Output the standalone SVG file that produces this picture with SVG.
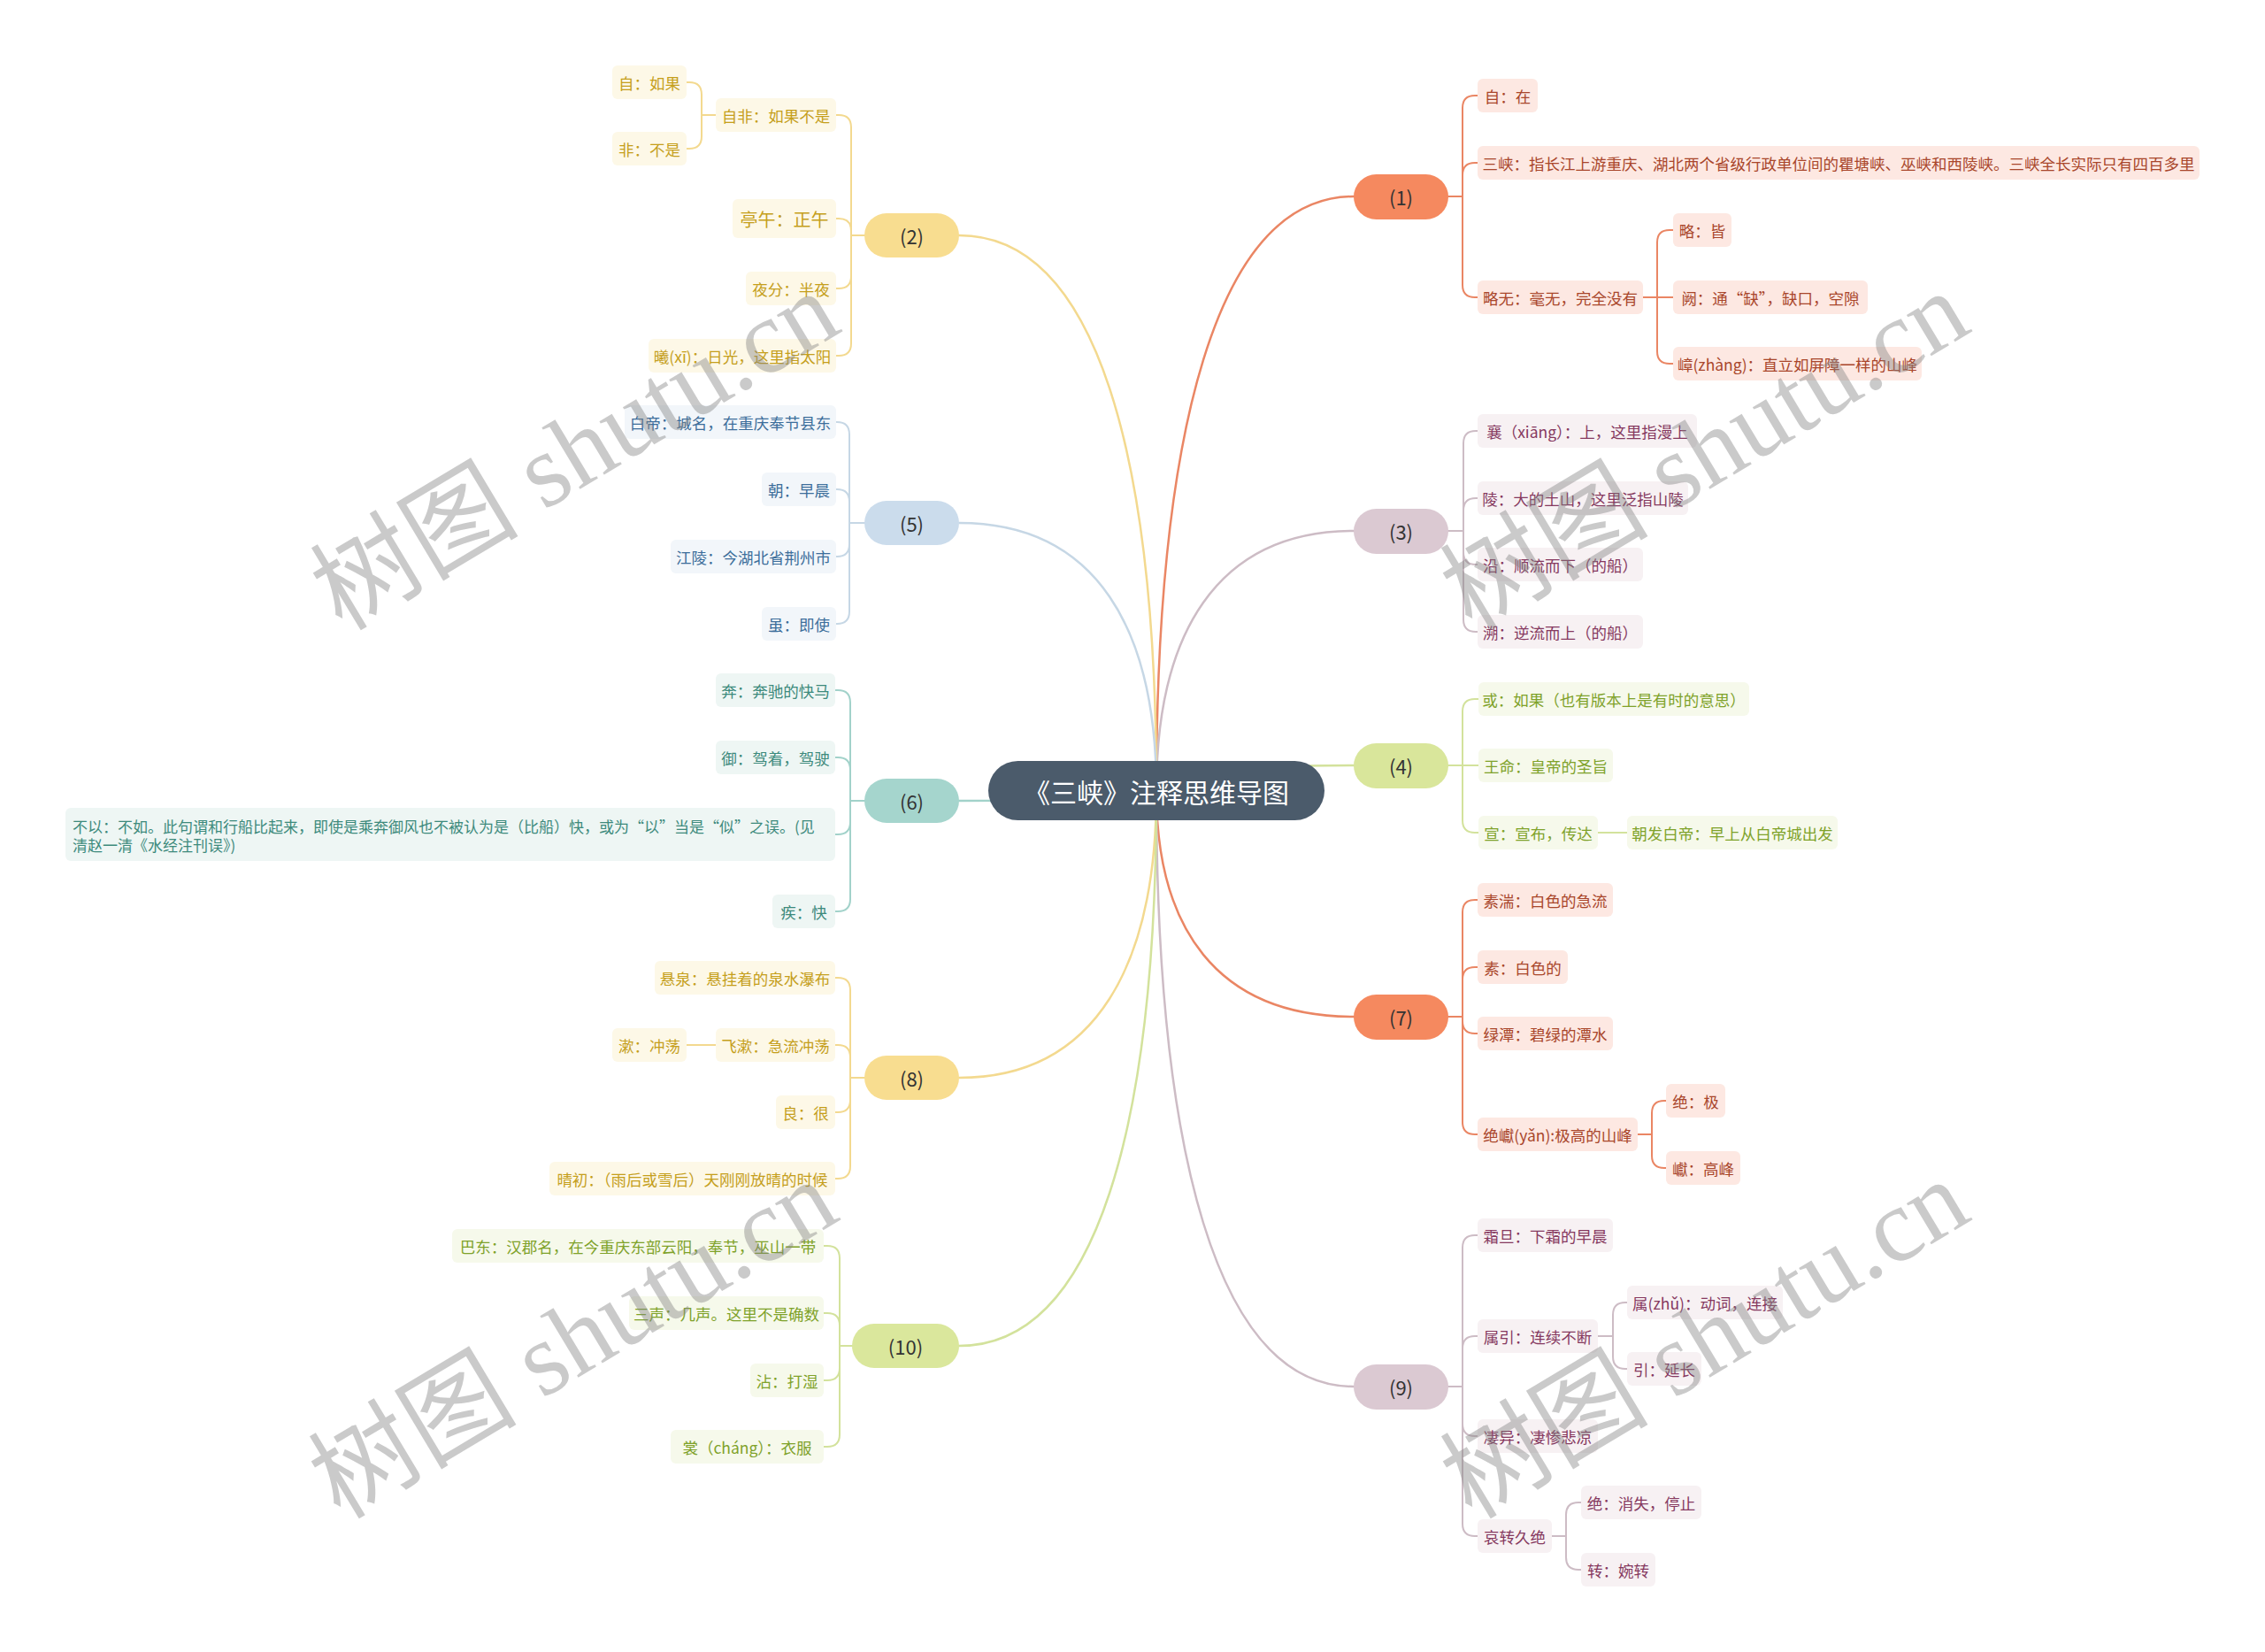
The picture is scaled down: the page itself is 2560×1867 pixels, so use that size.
<svg xmlns="http://www.w3.org/2000/svg" width="2560" height="1867" viewBox="0 0 2560 1867">
<style>
text{font-family:"Noto Sans CJK SC","Liberation Sans",sans-serif;dominant-baseline:central;text-anchor:middle}
.n text{font-size:17.5px}
.l1 text{font-size:22px;fill:#333}
.red rect{fill:#fde8e2}.red text{fill:#a9462b}
.yel rect{fill:#fdf8e7}.yel text{fill:#c59f1c}
.mau rect{fill:#f7f1f3}.mau text{fill:#86395f}
.grn rect{fill:#f6f9eb}.grn text{fill:#7fa22a}
.blu rect{fill:#f2f6fa}.blu text{fill:#3d6e9b}
.tea rect{fill:#eef6f4}.tea text{fill:#3d8a7c}
.conn path{fill:none;stroke-width:2;stroke-linecap:round}
.main path{stroke-width:2.5}
.sr{stroke:#ea8664}.sy{stroke:#f3d98f}.sm{stroke:#cdbcc5}.sg{stroke:#d3e29c}.sb{stroke:#c6d7e5}.st{stroke:#a2d2ca}
.wm{font-family:"Liberation Serif","Noto Sans CJK SC",serif;font-size:118px;fill:#808080;fill-opacity:0.42}
</style>
<rect width="2560" height="1867" fill="#fff"/>
<g id="connectors" class="conn">
<g class="main">
<path class="sr" d="M1307 894 C1307 491 1374 222 1530 222"/>
<path class="sm" d="M1307 894 C1307 718 1374 600 1530 600"/>
<path class="sg" d="M1307 894 C1307 877 1374 865 1530 865"/>
<path class="sr" d="M1307 894 C1307 1047 1374 1149 1530 1149"/>
<path class="sm" d="M1307 894 C1307 1298 1374 1567 1530 1567"/>
<path class="sy" d="M1307 894 C1307 517 1240 266 1084 266"/>
<path class="sb" d="M1307 894 C1307 712 1240 591 1084 591"/>
<path class="st" d="M1307 894 C1307 901 1240 905 1084 905"/>
<path class="sy" d="M1307 894 C1307 1088 1240 1218 1084 1218"/>
<path class="sg" d="M1307 894 C1307 1270 1240 1521 1084 1521"/>
</g>
<path class="sr" d="M1637 222 H1653 V122 Q1653 108 1667 108 H1670"/>
<path class="sr" d="M1637 222 H1653 V198 Q1653 184 1667 184 H1670"/>
<path class="sr" d="M1637 222 H1653 V322 Q1653 336 1667 336 H1670"/>
<path class="sr" d="M1857 336 H1873 V274 Q1873 260 1887 260 H1891"/>
<path class="sr" d="M1857 336 H1891"/>
<path class="sr" d="M1857 336 H1873 V397 Q1873 411 1887 411 H1891"/>
<path class="sm" d="M1637 600 H1654 V501 Q1654 487 1668 487 H1670"/>
<path class="sm" d="M1637 600 H1654 V577 Q1654 563 1668 563 H1670"/>
<path class="sm" d="M1637 600 H1654 V624 Q1654 638 1668 638 H1670"/>
<path class="sm" d="M1637 600 H1654 V700 Q1654 714 1668 714 H1670"/>
<path class="sg" d="M1637 865 H1653 V804 Q1653 790 1667 790 H1671"/>
<path class="sg" d="M1637 865 H1671"/>
<path class="sg" d="M1637 865 H1653 V927 Q1653 941 1667 941 H1671"/>
<path class="sg" d="M1806 941 H1839"/>
<path class="sr" d="M1637 1149 H1653 V1031 Q1653 1017 1667 1017 H1670"/>
<path class="sr" d="M1637 1149 H1653 V1107 Q1653 1093 1667 1093 H1670"/>
<path class="sr" d="M1637 1149 H1653 V1154 Q1653 1168 1667 1168 H1670"/>
<path class="sr" d="M1637 1149 H1653 V1268 Q1653 1282 1667 1282 H1670"/>
<path class="sr" d="M1851 1282 H1867 V1258 Q1867 1244 1881 1244 H1883"/>
<path class="sr" d="M1851 1282 H1867 V1306 Q1867 1320 1881 1320 H1883"/>
<path class="sm" d="M1637 1567 H1653 V1410 Q1653 1396 1667 1396 H1670"/>
<path class="sm" d="M1637 1567 H1653 V1524 Q1653 1510 1667 1510 H1670"/>
<path class="sm" d="M1637 1567 H1653 V1609 Q1653 1623 1667 1623 H1670"/>
<path class="sm" d="M1637 1567 H1653 V1722 Q1653 1736 1667 1736 H1670"/>
<path class="sm" d="M1806 1510 H1823 V1486 Q1823 1472 1837 1472 H1839"/>
<path class="sm" d="M1806 1510 H1823 V1533 Q1823 1547 1837 1547 H1839"/>
<path class="sm" d="M1754 1736 H1770 V1712 Q1770 1698 1784 1698 H1787"/>
<path class="sm" d="M1754 1736 H1770 V1760 Q1770 1774 1784 1774 H1787"/>
<path class="sy" d="M978 266 H962 V144 Q962 130 948 130 H945"/>
<path class="sy" d="M978 266 H962 V261 Q962 247 948 247 H945"/>
<path class="sy" d="M978 266 H962 V312 Q962 326 948 326 H945"/>
<path class="sy" d="M978 266 H962 V388 Q962 402 948 402 H945"/>
<path class="sy" d="M809 130 H793 V107 Q793 93 779 93 H776"/>
<path class="sy" d="M809 130 H793 V154 Q793 168 779 168 H776"/>
<path class="sb" d="M978 591 H960 V491 Q960 477 946 477 H945"/>
<path class="sb" d="M978 591 H960 V567 Q960 553 946 553 H945"/>
<path class="sb" d="M978 591 H960 V615 Q960 629 946 629 H945"/>
<path class="sb" d="M978 591 H960 V691 Q960 705 946 705 H945"/>
<path class="st" d="M977 905 H961 V794 Q961 780 947 780 H944"/>
<path class="st" d="M977 905 H961 V870 Q961 856 947 856 H944"/>
<path class="st" d="M977 905 H961 V929 Q961 943 947 943 H944"/>
<path class="st" d="M977 905 H961 V1016 Q961 1030 947 1030 H944"/>
<path class="sy" d="M978 1218 H961 V1119 Q961 1105 947 1105 H944"/>
<path class="sy" d="M978 1218 H961 V1195 Q961 1181 947 1181 H944"/>
<path class="sy" d="M978 1218 H961 V1243 Q961 1257 947 1257 H944"/>
<path class="sy" d="M978 1218 H961 V1318 Q961 1332 947 1332 H944"/>
<path class="sy" d="M809 1181 H776"/>
<path class="sg" d="M963 1521 H949 V1422 Q949 1408 935 1408 H931"/>
<path class="sg" d="M963 1521 H949 V1498 Q949 1484 935 1484 H931"/>
<path class="sg" d="M963 1521 H949 V1546 Q949 1560 935 1560 H931"/>
<path class="sg" d="M963 1521 H949 V1621 Q949 1635 935 1635 H931"/>
</g>
<g id="root"><rect x="1117" y="860" width="380" height="67" rx="33.5" fill="#4b5b6b"/><text x="1307" y="894" font-size="30" fill="#fff">《三峡》注释思维导图</text></g>
<g class="l1">
<g id="b1"><rect x="1530" y="197" width="107" height="51" rx="25.5" fill="#f5895f"/><text x="1583.5" y="222">(1)</text></g>
<g id="b3"><rect x="1530" y="575" width="107" height="51" rx="25.5" fill="#dbc9d2"/><text x="1583.5" y="600">(3)</text></g>
<g id="b4"><rect x="1530" y="840" width="107" height="51" rx="25.5" fill="#d9e69b"/><text x="1583.5" y="865">(4)</text></g>
<g id="b7"><rect x="1530" y="1124" width="107" height="51" rx="25.5" fill="#f5895f"/><text x="1583.5" y="1149">(7)</text></g>
<g id="b9"><rect x="1530" y="1542" width="107" height="51" rx="25.5" fill="#dbc9d2"/><text x="1583.5" y="1567">(9)</text></g>
<g id="b2"><rect x="977" y="241" width="107" height="50" rx="25" fill="#f8dd90"/><text x="1030.5" y="266">(2)</text></g>
<g id="b5"><rect x="977" y="566" width="107" height="50" rx="25" fill="#cbdcec"/><text x="1030.5" y="591">(5)</text></g>
<g id="b6"><rect x="977" y="880" width="107" height="50" rx="25" fill="#a5d5cd"/><text x="1030.5" y="905">(6)</text></g>
<g id="b8"><rect x="977" y="1193" width="107" height="50" rx="25" fill="#f8dd90"/><text x="1030.5" y="1218">(8)</text></g>
<g id="b10"><rect x="963" y="1496" width="121" height="50" rx="25" fill="#dae79c"/><text x="1023.5" y="1521">(10)</text></g>
</g>
<g class="n red">
<g id="n1a"><rect x="1670" y="89" width="68" height="38" rx="6"/><text x="1704" y="108">自：在</text></g>
<g id="n1b"><rect x="1670" y="165" width="816" height="38" rx="6"/><text x="2078" y="184">三峡：指长江上游重庆、湖北两个省级行政单位间的瞿塘峡、巫峡和西陵峡。三峡全长实际只有四百多里</text></g>
<g id="n1c"><rect x="1670" y="317" width="187" height="38" rx="6"/><text x="1763.5" y="336">略无：毫无，完全没有</text></g>
<g id="n1c1"><rect x="1891" y="241" width="66" height="38" rx="6"/><text x="1924" y="260">略：皆</text></g>
<g id="n1c2"><rect x="1891" y="317" width="220" height="38" rx="6"/><text x="2001" y="336">阙：通“缺”，缺口，空隙</text></g>
<g id="n1c3"><rect x="1891" y="392" width="281" height="38" rx="6"/><text x="2031.5" y="411">嶂(zhàng)：直立如屏障一样的山峰</text></g>
<g id="n7a"><rect x="1670" y="998" width="153" height="38" rx="6"/><text x="1746.5" y="1017">素湍：白色的急流</text></g>
<g id="n7b"><rect x="1670" y="1074" width="102" height="38" rx="6"/><text x="1721" y="1093">素：白色的</text></g>
<g id="n7c"><rect x="1670" y="1149" width="153" height="38" rx="6"/><text x="1746.5" y="1168">绿潭：碧绿的潭水</text></g>
<g id="n7d"><rect x="1670" y="1263" width="181" height="38" rx="6"/><text x="1760.5" y="1282">绝巘(yǎn):极高的山峰</text></g>
<g id="n7d1"><rect x="1883" y="1225" width="67" height="38" rx="6"/><text x="1916.5" y="1244">绝：极</text></g>
<g id="n7d2"><rect x="1883" y="1301" width="84" height="38" rx="6"/><text x="1925" y="1320">巘：高峰</text></g>
</g>
<g class="n mau">
<g id="n3a"><rect x="1670" y="468" width="248" height="38" rx="6"/><text x="1794" y="487">襄（xiāng）：上，这里指漫上</text></g>
<g id="n3b"><rect x="1670" y="544" width="238" height="38" rx="6"/><text x="1789" y="563">陵：大的土山，这里泛指山陵</text></g>
<g id="n3c"><rect x="1670" y="619" width="187" height="38" rx="6"/><text x="1763.5" y="638">沿：顺流而下（的船）</text></g>
<g id="n3d"><rect x="1670" y="695" width="187" height="38" rx="6"/><text x="1763.5" y="714">溯：逆流而上（的船）</text></g>
<g id="n9a"><rect x="1670" y="1377" width="153" height="38" rx="6"/><text x="1746.5" y="1396">霜旦：下霜的早晨</text></g>
<g id="n9b"><rect x="1670" y="1491" width="136" height="38" rx="6"/><text x="1738" y="1510">属引：连续不断</text></g>
<g id="n9b1"><rect x="1839" y="1453" width="176" height="38" rx="6"/><text x="1927" y="1472">属(zhǔ)：动词，连接</text></g>
<g id="n9b2"><rect x="1839" y="1528" width="84" height="38" rx="6"/><text x="1881" y="1547">引：延长</text></g>
<g id="n9c"><rect x="1670" y="1604" width="136" height="38" rx="6"/><text x="1738" y="1623">凄异：凄惨悲凉</text></g>
<g id="n9d"><rect x="1670" y="1717" width="84" height="38" rx="6"/><text x="1712" y="1736">哀转久绝</text></g>
<g id="n9d1"><rect x="1787" y="1679" width="136" height="38" rx="6"/><text x="1855" y="1698">绝：消失，停止</text></g>
<g id="n9d2"><rect x="1787" y="1755" width="84" height="38" rx="6"/><text x="1829" y="1774">转：婉转</text></g>
</g>
<g class="n grn">
<g id="n4a"><rect x="1671" y="771" width="306" height="38" rx="6"/><text x="1824" y="790">或：如果（也有版本上是有时的意思）</text></g>
<g id="n4b"><rect x="1671" y="846" width="152" height="38" rx="6"/><text x="1747" y="865">王命：皇帝的圣旨</text></g>
<g id="n4c"><rect x="1671" y="922" width="135" height="38" rx="6"/><text x="1738.5" y="941">宣：宣布，传达</text></g>
<g id="n4c1"><rect x="1839" y="922" width="238" height="38" rx="6"/><text x="1958" y="941">朝发白帝：早上从白帝城出发</text></g>
<g id="n10a"><rect x="511" y="1389" width="420" height="38" rx="6"/><text x="721" y="1408">巴东：汉郡名，在今重庆东部云阳，奉节，巫山一带</text></g>
<g id="n10b"><rect x="711" y="1465" width="220" height="38" rx="6"/><text x="821" y="1484">三声：几声。这里不是确数</text></g>
<g id="n10c"><rect x="848" y="1541" width="83" height="38" rx="6"/><text x="889.5" y="1560">沾：打湿</text></g>
<g id="n10d"><rect x="758" y="1616" width="173" height="38" rx="6"/><text x="844.5" y="1635">裳（cháng）：衣服</text></g>
</g>
<g class="n yel">
<g id="n2a"><rect x="809" y="111" width="136" height="38" rx="6"/><text x="877" y="130">自非：如果不是</text></g>
<g id="n2a1"><rect x="692" y="74" width="84" height="38" rx="6"/><text x="734" y="93">自：如果</text></g>
<g id="n2a2"><rect x="692" y="149" width="84" height="38" rx="6"/><text x="734" y="168">非：不是</text></g>
<g id="n2b"><rect x="828" y="225" width="117" height="44" rx="6"/><text x="886.5" y="247" style="font-size:20px">亭午：正午</text></g>
<g id="n2c"><rect x="843" y="307" width="102" height="38" rx="6"/><text x="894" y="326">夜分：半夜</text></g>
<g id="n2d"><rect x="733" y="383" width="212" height="38" rx="6"/><text x="839" y="402">曦(xī)：日光，这里指太阳</text></g>
<g id="n8a"><rect x="740" y="1086" width="204" height="38" rx="6"/><text x="842" y="1105">悬泉：悬挂着的泉水瀑布</text></g>
<g id="n8b"><rect x="809" y="1162" width="135" height="38" rx="6"/><text x="876.5" y="1181">飞漱：急流冲荡</text></g>
<g id="n8b1"><rect x="692" y="1162" width="84" height="38" rx="6"/><text x="734" y="1181">漱：冲荡</text></g>
<g id="n8c"><rect x="877" y="1238" width="67" height="38" rx="6"/><text x="910.5" y="1257">良：很</text></g>
<g id="n8d"><rect x="621" y="1313" width="323" height="38" rx="6"/><text x="782.5" y="1332">晴初：（雨后或雪后）天刚刚放晴的时候</text></g>
</g>
<g class="n blu">
<g id="n5a"><rect x="706" y="458" width="239" height="38" rx="6"/><text x="825.5" y="477">白帝：城名，在重庆奉节县东</text></g>
<g id="n5b"><rect x="861" y="534" width="84" height="38" rx="6"/><text x="903" y="553">朝：早晨</text></g>
<g id="n5c"><rect x="758" y="610" width="187" height="38" rx="6"/><text x="851.5" y="629">江陵：今湖北省荆州市</text></g>
<g id="n5d"><rect x="861" y="686" width="84" height="38" rx="6"/><text x="903" y="705">虽：即使</text></g>
</g>
<g class="n tea">
<g id="n6a"><rect x="809" y="761" width="135" height="38" rx="6"/><text x="876.5" y="780">奔：奔驰的快马</text></g>
<g id="n6b"><rect x="809" y="837" width="135" height="38" rx="6"/><text x="876.5" y="856">御：驾着，驾驶</text></g>
<g id="n6c"><rect x="74" y="913" width="870" height="60" rx="6"/><text x="82" y="933" style="text-anchor:start;font-size:17px">不以：不如。此句谓和行船比起来，即使是乘奔御风也不被认为是（比船）快，或为“以”当是“似”之误。(见</text><text x="82" y="954" style="text-anchor:start;font-size:17px">清赵一清《水经注刊误》)</text></g>
<g id="n6d"><rect x="873" y="1011" width="71" height="38" rx="6"/><text x="908.5" y="1030">疾：快</text></g>
</g>
<g id="watermark">
<text class="wm" transform="rotate(-31 650 510)" x="650" y="510">树图 shutu.cn</text>
<text class="wm" transform="rotate(-31 648 1514)" x="648" y="1514">树图 shutu.cn</text>
<text class="wm" transform="rotate(-31 1927 510)" x="1927" y="510">树图 shutu.cn</text>
<text class="wm" transform="rotate(-31 1927 1514)" x="1927" y="1514">树图 shutu.cn</text>
</g>
</svg>
